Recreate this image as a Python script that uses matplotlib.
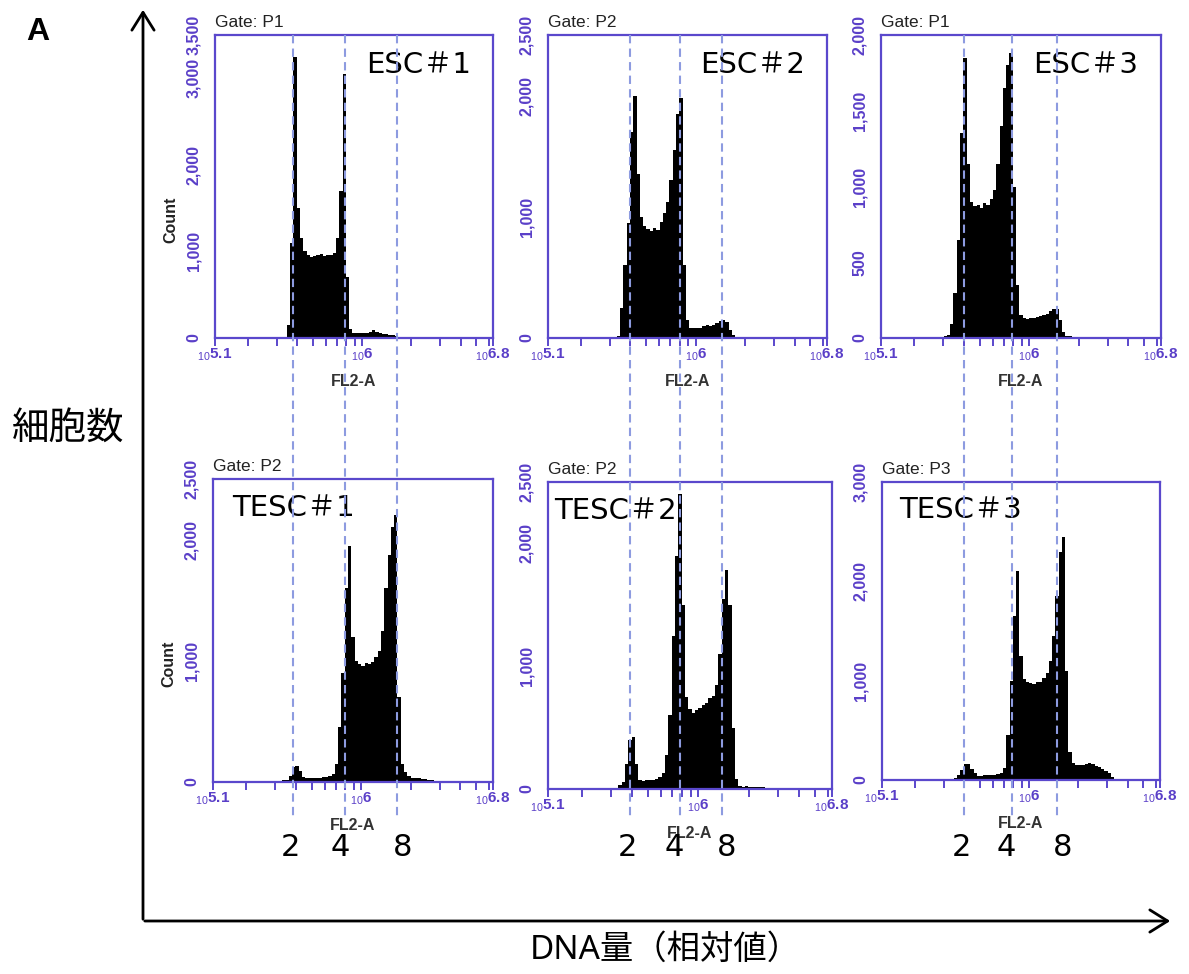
import numpy as np
import matplotlib
matplotlib.use("Agg")
import matplotlib.pyplot as plt
import matplotlib.transforms as mtransforms
from matplotlib.lines import Line2D
from matplotlib.patches import FancyArrowPatch
from matplotlib.ticker import FixedLocator, FixedFormatter, LogLocator, NullFormatter

# ---------------- data ----------------
bin_width_log = 0.02          # histogram bin width (decades of FL2-A)
log_min, log_max = 5.1, 6.8   # FL2-A axis range (log10)

esc1_start = 5.54
esc1_counts = [150, 1100, 3250, 1500, 1150, 1000, 960, 940, 950, 960, 970, 950, 960,
               960, 980, 1150, 1700, 3050, 700, 100, 60, 55, 55, 60, 60, 75, 90, 70,
               55, 50, 45, 40, 30, 20]

esc2_start = 5.52
esc2_counts = [20, 250, 600, 950, 1700, 2000, 1350, 1000, 920, 900, 880, 910, 890, 960,
               1030, 1120, 1300, 1550, 1850, 1980, 600, 150, 85, 80, 80, 85, 95, 105,
               100, 110, 125, 140, 150, 130, 70, 25, 8, 3]

esc3_start = 5.40
esc3_counts = [5, 5, 8, 8, 10, 20, 90, 300, 650, 1350, 1850, 1150, 900, 870, 880, 860,
               890, 880, 920, 980, 1150, 1400, 1650, 1800, 1880, 1000, 350, 150, 130,
               125, 130, 135, 140, 145, 150, 160, 175, 190, 190, 120, 40, 15, 10, 8, 8,
               8, 6, 6, 5, 4, 4, 3, 2]

tesc1_start = 5.50
tesc1_counts = [5, 15, 20, 50, 120, 130, 90, 40, 30, 35, 30, 35, 35, 40, 45, 50, 70, 150,
                450, 900, 1600, 1950, 1200, 1000, 970, 960, 980, 970, 990, 1030, 1080,
                1250, 1600, 1870, 2100, 2200, 700, 150, 80, 50, 35, 30, 30, 25, 25, 20,
                20, 10, 3]

tesc2_start = 5.52
tesc2_counts = [30, 60, 200, 400, 420, 200, 70, 65, 70, 70, 75, 80, 100, 130, 280, 600,
                1250, 1900, 2400, 1500, 750, 650, 620, 640, 660, 680, 700, 740, 760, 850,
                1100, 1550, 1780, 1500, 500, 80, 25, 20, 25, 20, 20, 15, 15, 15, 12, 10,
                10, 5]

tesc3_start = 5.52
tesc3_counts = [10, 20, 50, 100, 160, 165, 110, 70, 45, 45, 50, 50, 55, 55, 60, 70, 120,
                450, 1000, 1650, 2100, 1250, 1020, 990, 980, 970, 990, 990, 1030, 1080,
                1200, 1450, 1850, 2300, 2450, 1100, 280, 175, 155, 150, 150, 160, 175,
                160, 140, 130, 115, 95, 70, 35, 15, 8, 5]

sample_names = ["ESC＃1", "ESC＃2", "ESC＃3", "TESC＃1", "TESC＃2", "TESC＃3"]
gate_names = ["P1", "P2", "P1", "P2", "P2", "P3"]
starts = [esc1_start, esc2_start, esc3_start, tesc1_start, tesc2_start, tesc3_start]
counts = [esc1_counts, esc2_counts, esc3_counts, tesc1_counts, tesc2_counts, tesc3_counts]
y_max = [3500, 2500, 2000, 2500, 2500, 3000]
y_ticks = [[0, 1000, 2000, 3000, 3500],
           [0, 1000, 2000, 2500],
           [0, 500, 1000, 1500, 2000],
           [0, 1000, 2000, 2500],
           [0, 1000, 2000, 2500],
           [0, 1000, 2000, 3000]]
x_tick_labels = [r"$_{10}$5.1", r"$_{10}$6", r"$_{10}$6.8"]

# ploidy reference lines (log10 FL2-A) for each column: 2n, 4n, 8n
ploidy_labels = ["2", "4", "8"]
ploidy_col1 = [5.578, 5.894, 6.214]
ploidy_col2 = [5.602, 5.902, 6.160]
ploidy_col3 = [5.604, 5.893, 6.171]

# ---------------- style ----------------
W, H = 1189, 974
fig = plt.figure(figsize=(W / 100, H / 100), dpi=100)
plt.rcParams["mathtext.fontset"] = "custom"
plt.rcParams["mathtext.rm"] = "Liberation Sans"
plt.rcParams["mathtext.it"] = "Liberation Sans"
plt.rcParams["mathtext.bf"] = "Liberation Sans:bold"

AX_COL = "#5a48cc"
TICK_COL = "#5a3fc8"
LATIN_CJK = ["DejaVu Sans", "Noto Sans CJK JP"]
CJK = ["Noto Sans CJK JP", "DejaVu Sans"]
DASH_COL = "#8d9be0"

def box(l, r, t, b):
    return [l / W, 1 - b / H, (r - l) / W, (b - t) / H]

boxes = [box(215, 493, 35, 338), box(548, 827, 35, 338), box(881, 1161, 35, 338),
         box(213, 493, 479, 782), box(548, 832, 482, 789), box(882, 1160, 482, 780)]

axes = []
for i in range(6):
    ax = fig.add_axes(boxes[i])
    axes.append(ax)
    c = np.array(counts[i], dtype=float)
    edges = 10 ** (starts[i] + bin_width_log * np.arange(len(c) + 1))
    ax.stairs(c, edges, fill=True, color="black", baseline=0, zorder=2)
    ax.set_xscale("log")
    ax.set_xlim(10 ** log_min, 10 ** log_max)
    ax.set_ylim(0, y_max[i])
    for s in ax.spines.values():
        s.set_color(AX_COL)
        s.set_linewidth(1.6)
    ax.xaxis.set_major_locator(FixedLocator([10 ** log_min, 1e6, 10 ** log_max]))
    ax.xaxis.set_major_formatter(FixedFormatter(x_tick_labels))
    ax.xaxis.set_minor_locator(LogLocator(base=10, subs=np.arange(2, 10)))
    ax.xaxis.set_minor_formatter(NullFormatter())
    ax.tick_params(axis="x", which="both", direction="out", length=5.5, width=1.4,
                   color=AX_COL, labelcolor=TICK_COL, pad=1, labelsize=11)
    for lab in ax.get_xticklabels():
        lab.set_fontfamily("Liberation Sans")
        lab.set_fontweight("bold")
    ax.set_yticks(y_ticks[i])
    ax.set_yticklabels([f"{v:,}" for v in y_ticks[i]], rotation=90, va="center",
                       fontfamily="Liberation Sans", fontweight="bold", fontsize=11.5,
                       color=TICK_COL)
    ax.tick_params(axis="y", length=0, pad=10)
    ax.text(0.0, 1 + 5 / 303, f"Gate: {gate_names[i]}", transform=ax.transAxes,
            ha="left", va="bottom", fontsize=12.5, fontfamily="Liberation Sans",
            color="#222222")
    ax.text(0.5, -0.145, "FL2-A", transform=ax.transAxes, ha="center", va="center",
            fontsize=11.5, fontfamily="Liberation Sans", fontweight="bold", color="#333333")
    if i % 3 == 0:
        ax.text(-0.158, 0.39, "Count", transform=ax.transAxes, rotation=90,
                ha="center", va="center", fontsize=11.5, fontfamily="Liberation Sans",
                fontweight="bold", color="#222222")
    if i < 3:
        ax.text(0.92, 0.90, sample_names[i], transform=ax.transAxes, ha="right",
                va="center", fontsize=21, fontfamily=LATIN_CJK, color="black", zorder=5)
    else:
        xoff = [0.068, 0.02, 0.062][i - 3]
        ax.text(xoff, 0.905, sample_names[i], transform=ax.transAxes, ha="left",
                va="center", fontsize=21, fontfamily=LATIN_CJK, color="black", zorder=5)

# dashed ploidy lines spanning both rows, and the 2/4/8 labels
col_lines = [ploidy_col1, ploidy_col2, ploidy_col3]
label_offsets = [-3, -5, 5]
for col in range(3):
    ax_top = axes[col]
    tr = mtransforms.blended_transform_factory(ax_top.transData, fig.transFigure)
    for j, lv in enumerate(col_lines[col]):
        xv = 10 ** lv
        ln = Line2D([xv, xv], [1 - 35 / H, 1 - 818 / H], transform=tr, color=DASH_COL,
                    lw=1.5, linestyle=(0, (4, 2.5)), zorder=10)
        fig.add_artist(ln)
        off = mtransforms.offset_copy(tr, fig=fig, x=label_offsets[j], y=0, units="dots")
        fig.text(xv, 1 - 848 / H, ploidy_labels[j], transform=off, ha="center",
                 va="center", fontsize=22, fontfamily=LATIN_CJK, color="black")

# big axes arrows
fig.add_artist(FancyArrowPatch((143 / W, 1 - 922 / H), (143 / W, 1 - 7 / H),
                               transform=fig.transFigure, arrowstyle="->,head_length=8,head_width=5",
                               lw=2.0, color="black", mutation_scale=1.6))
fig.add_artist(FancyArrowPatch((142 / W, 1 - 921 / H), (1173 / W, 1 - 921 / H),
                               transform=fig.transFigure, arrowstyle="->,head_length=8,head_width=5",
                               lw=2.0, color="black", mutation_scale=1.6))

fig.text(38 / W, 1 - 32 / H, "A", fontsize=23, fontweight="bold",
         fontfamily="Liberation Sans", ha="center", va="center")
fig.text(68 / W, 1 - 428 / H, "細胞数", fontsize=27, fontfamily=CJK,
         ha="center", va="center")
fig.text(665 / W, 1 - 950 / H, "DNA量（相対値）", fontsize=24,
         fontfamily=["Noto Sans", "Noto Sans CJK JP"], ha="center", va="center")

fig.savefig("out.png", dpi=100)
